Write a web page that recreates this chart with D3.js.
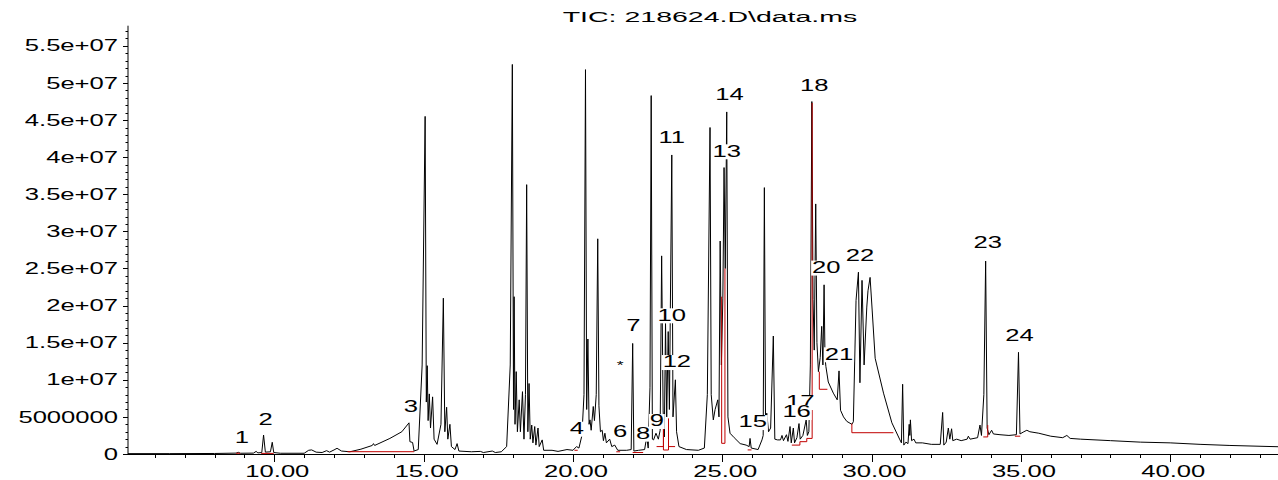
<!DOCTYPE html>
<html>
<head>
<meta charset="utf-8">
<script src="https://cdn.jsdelivr.net/npm/d3@7"></script>
<style>
  body { margin: 0; background: #fff; }
  text { font-family: "Liberation Sans", Arial, sans-serif; fill: #000; }
</style>
</head>
<body>
<script>
// TIC chromatogram, signal in units of 1e6 counts
let trace = [
  [5.10,0.05],[6.5,0.05],[8.0,0.07],[8.72,0.12],[8.80,0.22],[8.86,0.1],[9.30,0.12],[9.39,0.35],[9.45,0.15],
  [9.58,0.2],[9.64,2.56],[9.70,0.25],[9.87,0.3],[9.93,1.58],[9.98,0.2],[10.2,0.1],[11.0,0.1],[11.15,0.5],
  [11.25,0.55],[11.4,0.25],[11.6,0.2],[11.75,0.45],[11.85,0.25],[12.0,0.55],[12.1,0.77],[12.25,0.4],[12.53,0.3],
  [12.9,0.65],[13.28,1.15],[13.32,1.4],[13.36,1.15],[13.87,2.1],[14.27,3.0],[14.51,4.2],[14.54,1.66],[14.63,1.55],
  [14.68,0.4],[14.82,0.6],[14.95,12],[15.05,45.5],[15.09,7],[15.12,11.9],[15.15,4.5],[15.19,8.1],[15.23,3.5],
  [15.30,7.7],[15.35,2.0],[15.45,1.3],[15.58,4],[15.66,21.0],[15.71,3],[15.77,6.3],[15.81,2],[15.88,4.0],
  [15.93,1.0],[16.05,0.6],[16.12,1.4],[16.18,0.4],[16.6,0.3],[16.9,0.35],[17.0,0.2],[17.3,0.4],[17.4,0.2],
  [17.6,0.3],[17.78,1.0],[17.90,12],[17.97,52.5],[18.01,6],[18.03,21.2],[18.06,4],[18.10,11.1],[18.14,3],
  [18.20,7.3],[18.24,3],[18.31,8.4],[18.36,2],[18.41,8],[18.45,36.3],[18.49,3],[18.53,9.5],[18.57,2],
  [18.62,3.9],[18.66,1.5],[18.72,3.7],[18.76,1.2],[18.83,3.5],[18.87,1.0],[18.97,1.9],[19.02,0.5],[19.3,0.5],
  [19.5,0.35],[19.8,0.6],[20.0,0.5],[20.12,1.0],[20.2,0.8],[20.30,2.5],[20.37,8],[20.42,51.8],[20.46,6],
  [20.50,15.5],[20.54,4],[20.57,4.6],[20.61,3.2],[20.68,6.4],[20.72,4.5],[20.78,8],[20.83,29.0],[20.87,6.5],
  [20.92,3],[20.98,3.2],[21.02,1.8],[21.07,2.8],[21.12,1.5],[21.23,2.0],[21.30,1.0],[21.40,1.2],[21.50,0.5],
  [21.80,0.5],[21.95,0.6],[22.00,14.9],[22.04,0.4],[22.20,0.5],[22.40,0.6],[22.47,2.3],[22.52,0.8],[22.58,9],
  [22.62,48.3],[22.66,2],[22.70,1.9],[22.78,2.8],[22.86,2.0],[22.92,3.2],[22.97,26.7],[23.02,5.8],[23.06,2.3],
  [23.10,17.6],[23.14,5],[23.19,16.5],[23.23,6],[23.31,40.3],[23.35,5],[23.43,10.0],[23.47,3],[23.55,1.0],
  [23.8,0.6],[24.2,0.5],[24.40,0.8],[24.50,8],[24.59,44.0],[24.63,8],[24.70,4.6],[24.76,6.0],[24.85,7.3],
  [24.89,5],[24.93,28.7],[24.97,12],[25.02,21],[25.06,38.6],[25.10,25],[25.15,46.1],[25.19,5],[25.26,2.8],
  [25.40,2.2],[25.60,1.4],[25.80,1.2],[25.90,1.0],[25.93,2.1],[25.97,0.8],[26.20,0.6],[26.33,1.9],[26.37,2.5],
  [26.41,35.9],[26.45,4],[26.49,5.5],[26.55,3.0],[26.62,3.5],[26.71,15.9],[26.76,2.0],[26.85,1.9],[26.95,1.9],
  [27.00,2.5],[27.05,1.8],[27.15,2.6],[27.20,1.7],[27.27,3.7],[27.31,1.5],[27.38,3.5],[27.42,1.5],[27.50,2.2],
  [27.57,4.1],[27.61,2.0],[27.70,2.5],[27.81,4.6],[27.85,2.5],[27.90,3.0],[27.95,12],[28.00,47.5],[28.04,20.8],
  [28.08,14],[28.13,33.7],[28.17,15],[28.22,11.1],[28.28,13],[28.33,17.2],[28.37,12],[28.41,22.8],[28.44,13],
  [28.47,11.8],[28.55,9.7],[28.72,8.2],[28.85,7.3],[28.91,11.2],[28.96,5.9],[29.06,5.0],[29.17,4.4],[29.34,4.0],
  [29.39,4.35],[29.48,20.7],[29.56,24.5],[29.61,9.6],[29.68,23.4],[29.75,12.0],[29.84,19.8],[29.88,22.0],
  [29.95,23.8],[30.02,19.4],[30.12,12.9],[30.40,8.2],[30.68,4.2],[30.95,1.9],[31.00,1.5],[31.04,9.4],[31.08,1.2],
  [31.15,1.6],[31.22,1.4],[31.26,4.0],[31.28,2.5],[31.30,4.6],[31.34,1.8],[31.42,2.0],[31.48,1.5],[31.7,1.5],
  [32.0,1.3],[32.30,1.3],[32.38,5.6],[32.42,1.2],[32.50,1.6],[32.57,3.5],[32.62,2.0],[32.68,3.4],[32.72,1.8],
  [32.85,2.0],[33.0,1.8],[33.2,2.0],[33.24,2.4],[33.30,2.0],[33.55,2.2],[33.63,3.9],[33.68,2.5],[33.76,8],
  [33.82,26.0],[33.87,3.5],[33.93,2.6],[34.02,3.2],[34.08,2.7],[34.30,2.6],[34.60,2.5],[34.85,2.6],[34.92,13.7],
  [34.97,2.7],[35.10,3.0],[35.20,3.2],[35.30,3.0],[35.60,2.8],[36.00,2.4],[36.40,2.2],[36.54,2.5],[36.65,2.1],
  [37.0,2.0],[38.0,1.8],[39.0,1.6],[40.0,1.5],[41.0,1.3],[42.0,1.15],[43.61,0.98]
];

// integration baselines (red), each one a polyline of [rt, signal]
let baselines = [
  [[8.72,0.1],[8.86,0.1]],
  [[9.56,0.08],[9.98,0.08]],
  [[12.45,0.31],[14.68,0.31]],
  [[20.05,0.5],[20.16,0.5]],
  [[21.45,0.3],[21.58,0.3]],
  [[22.00,0.2],[22.35,0.2]],
  [[22.80,1.0],[23.03,1.0],[23.03,5.0],[23.03,0.54],[23.20,0.54],[23.20,4.8]],
  [[23.20,1.0],[23.42,1.0]],
  [[24.98,21.2],[24.98,1.44],[25.09,1.44],[25.09,25]],
  [[25.85,0.55],[25.98,0.55]],
  [[27.33,1.2],[27.60,1.2],[27.60,1.66],[27.83,1.66],[27.83,2.1],[28.01,2.1],[28.01,47.3]],
  [[28.25,11.1],[28.25,8.72],[28.52,8.72]],
  [[29.34,4.1],[29.34,2.87],[30.73,2.87]],
  [[33.74,2.3],[33.89,2.3],[33.89,3.9]],
  [[34.80,2.4],[34.98,2.4]]
];

// peak numbers and where their labels sit [rt, signal]
let peakNames = ["1","2","3","4","6","7","8","9","10","11","12","13","14","15","17","16","18","20","21","22","23","24","*"];
let peakLabelAt = [
  [8.91,2.29],[9.71,4.68],[14.57,6.38],[20.13,3.46],[21.58,3.10],[22.02,17.39],[22.35,2.79],[22.81,4.49],
  [23.31,18.74],[23.31,42.64],[23.48,12.44],[25.15,40.84],[25.24,48.49],[26.02,4.35],[27.61,7.05],[27.49,5.70],
  [28.08,49.74],[28.48,25.17],[28.91,13.48],[29.61,26.83],[33.89,28.48],[34.95,16.04],[21.58,12.0]
];

let xMajor = [10, 15, 20, 25, 30, 35, 40];
let xMinor = [6,7,8,9,11,12,13,14,16,17,18,19,21,22,23,24,26,27,28,29,31,32,33,34,36,37,38,39,41,42,43];
let yMajor = [0, 5e6, 1e7, 1.5e7, 2e7, 2.5e7, 3e7, 3.5e7, 4e7, 4.5e7, 5e7, 5.5e7];
let yLabels = ["0","5000000","1e+07","1.5e+07","2e+07","2.5e+07","3e+07","3.5e+07","4e+07","4.5e+07","5e+07","5.5e+07"];
let title = "TIC: 218624.D\\data.ms";

let W = 1278, H = 480;
let stretch = 1.6; // the original font is drawn wide

let svg = d3.select("body").append("svg")
    .attr("width", W)
    .attr("height", H);

let x = d3.scaleLinear().domain([5.10, 43.61]).range([128, 1278]);
let y = d3.scaleLinear().domain([0, 5.772e7]).range([454, 25.7]);

// title
svg.append("text")
    .attr("transform", `translate(710,22) scale(1.9,1)`)
    .attr("text-anchor", "middle")
    .style("font-size", "15px")
    .text(title);

// y axis
let yMinor = d3.range(1e6, 5.77e7, 1e6).filter(v => v % 5e6 !== 0);
svg.append("line")
    .attr("x1", 128).attr("x2", 128)
    .attr("y1", y.range()[1]).attr("y2", 454)
    .attr("stroke", "#000");
svg.selectAll(".yminor").data(yMinor).join("line")
    .attr("x1", 125.5).attr("x2", 128)
    .attr("y1", d => Math.round(y(d)) + 0.5).attr("y2", d => Math.round(y(d)) + 0.5)
    .attr("stroke", "#000");
svg.selectAll(".ymajor").data(yMajor).join("line")
    .attr("x1", 123).attr("x2", 128)
    .attr("y1", d => Math.round(y(d)) + 0.5).attr("y2", d => Math.round(y(d)) + 0.5)
    .attr("stroke", "#000");
svg.selectAll(".ylab").data(yMajor).join("text")
    .attr("transform", d => `translate(118,${y(d)}) scale(${stretch},1)`)
    .attr("text-anchor", "end")
    .attr("dy", "0.35em")
    .style("font-size", "16px")
    .text((d, i) => yLabels[i]);

// x axis
svg.append("line")
    .attr("x1", 128).attr("x2", W)
    .attr("y1", 454.5).attr("y2", 454.5)
    .attr("stroke", "#000");
svg.selectAll(".xminor").data(xMinor).join("line")
    .attr("x1", d => Math.round(x(d)) + 0.5).attr("x2", d => Math.round(x(d)) + 0.5)
    .attr("y1", 454).attr("y2", 458)
    .attr("stroke", "#000");
svg.selectAll(".xmajor").data(xMajor).join("line")
    .attr("x1", d => Math.round(x(d)) + 0.5).attr("x2", d => Math.round(x(d)) + 0.5)
    .attr("y1", 454).attr("y2", 462)
    .attr("stroke", "#000");
svg.selectAll(".xlab").data(xMajor).join("text")
    .attr("transform", d => `translate(${x(d) + 3},477) scale(${stretch},1)`)
    .attr("text-anchor", "middle")
    .style("font-size", "16px")
    .text(d => d3.format(".2f")(d));

// the trace
let line = d3.line()
    .x(d => x(d[0]))
    .y(d => y(d[1] * 1e6));

svg.append("path")
    .datum(trace)
    .attr("d", line)
    .attr("fill", "none")
    .attr("stroke", "#000")
    .attr("stroke-width", 1);

svg.selectAll(".base").data(baselines).join("path")
    .attr("d", line)
    .attr("fill", "none")
    .attr("stroke", "#c00000")
    .attr("stroke-width", 1);

// peak labels with white boxes that hide the trace behind them
peakNames.forEach((name, i) => {
    let p = peakLabelAt[i];
    let star = name === "*";
    let g = svg.append("g")
        .attr("transform", `translate(${x(p[0])},${y(p[1] * 1e6)}) scale(${stretch},1)`);
    let t = g.append("text")
        .attr("text-anchor", "middle")
        .attr("dy", "0.35em")
        .style("font-size", star ? "11px" : "16px")
        .text(name);
    if (!star) {
        let b = t.node().getBBox();
        g.insert("rect", "text")
            .attr("x", b.x - 0.5)
            .attr("y", b.y + 2)
            .attr("width", b.width + 1)
            .attr("height", b.height - 3)
            .attr("fill", "#fff");
    }
});
</script>
</body>
</html>
